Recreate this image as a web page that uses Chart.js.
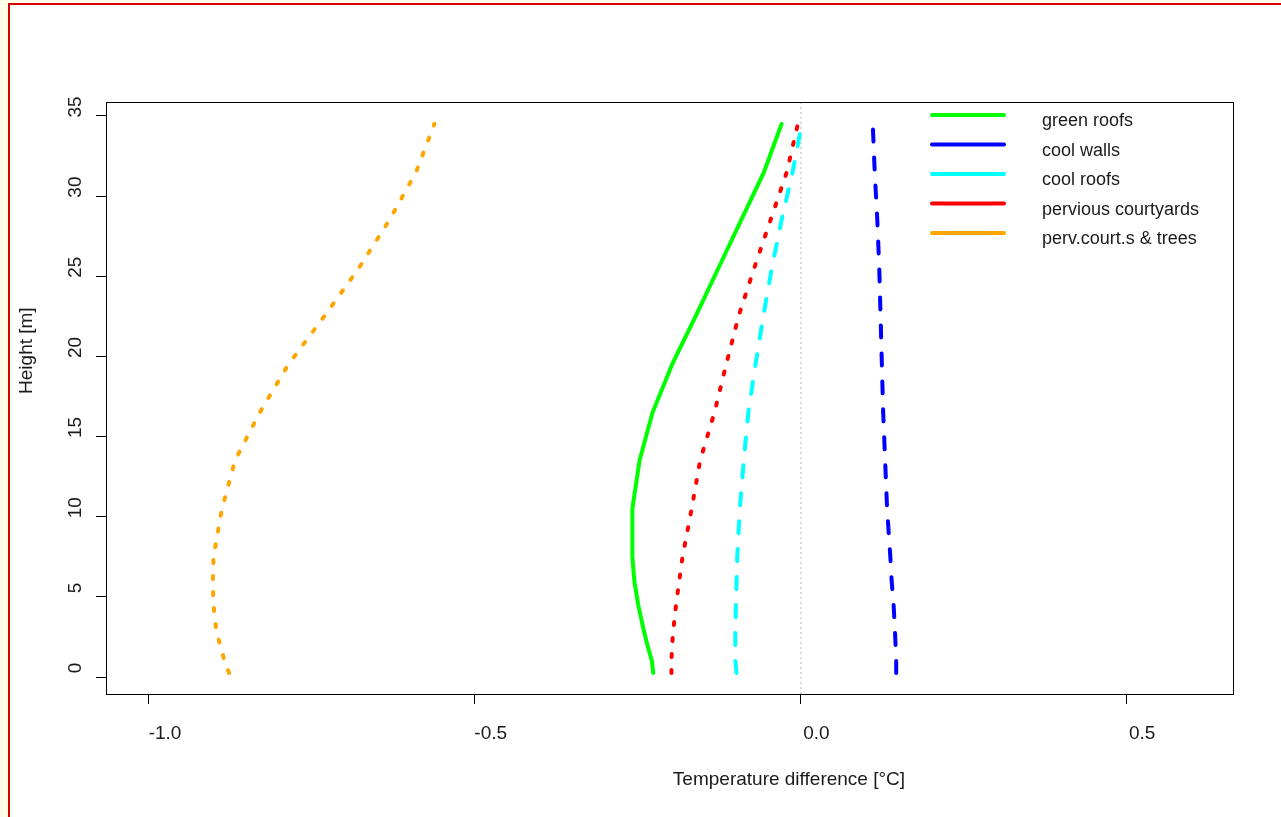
<!DOCTYPE html>
<html>
<head>
<meta charset="utf-8">
<title>Temperature difference profiles</title>
<script src="https://cdn.jsdelivr.net/npm/chart.js@4.4.1/dist/chart.umd.min.js"></script>
<style>
  html, body { margin: 0; padding: 0; width: 1281px; height: 817px; overflow: hidden; background: #fffde6; }
  #frame { position: absolute; left: 8px; top: 3px; width: 1290px; height: 830px; border: 2px solid #d00000; background: #ffffff; box-sizing: border-box; }
  #c { position: absolute; left: 0; top: 0; }
</style>
</head>
<body>
<div id="frame"></div>
<canvas id="c" width="1281" height="817"></canvas>
<script>
// Model levels (m) shared by every profile
const heights = [0.25, 1, 2, 3, 4.5, 6, 7.5, 10.5, 13.5, 16.5, 19.5, 22.5, 25.5, 28.5, 31.5, 34.5];

// Temperature difference (°C) against the reference case, one list per scenario
const greenRoofs   = [-0.226, -0.228, -0.235, -0.241, -0.249, -0.255, -0.258, -0.258, -0.247, -0.227, -0.197, -0.161, -0.126, -0.091, -0.056, -0.029];
const coolWalls    = [0.147, 0.147, 0.146, 0.145, 0.143, 0.140, 0.138, 0.133, 0.130, 0.127, 0.125, 0.123, 0.121, 0.118, 0.114, 0.111];
const coolRoofs    = [-0.098, -0.100, -0.100, -0.100, -0.099, -0.098, -0.097, -0.093, -0.087, -0.080, -0.069, -0.057, -0.044, -0.029, -0.012, 0.002];
const perviousCy   = [-0.198, -0.198, -0.197, -0.195, -0.191, -0.186, -0.181, -0.167, -0.154, -0.132, -0.114, -0.095, -0.071, -0.046, -0.021, -0.004];
const pervCyTrees  = [-0.877, -0.884, -0.891, -0.897, -0.901, -0.902, -0.901, -0.888, -0.868, -0.830, -0.786, -0.731, -0.678, -0.631, -0.590, -0.562];

const seriesNames = ['green roofs', 'cool walls', 'cool roofs', 'pervious courtyards', 'perv.court.s & trees'];

// Axis ticks
const xTickValues = [-1.0, -0.5, 0.0, 0.5];
const xTickLabels = ['-1.0', '-0.5', '0.0', '0.5'];
const yTickValues = [0, 5, 10, 15, 20, 25, 30, 35];
const yTickLabels = ['0', '5', '10', '15', '20', '25', '30', '35'];

const toPoints = vals => vals.map((v, i) => ({ x: v, y: heights[i] }));

const FONT = '"Liberation Sans", Arial, sans-serif';

const styles = [
  { color: '#00ff00', dash: [] },
  { color: '#0000ff', dash: [12, 16] },
  { color: '#00ffff', dash: [12, 16] },
  { color: '#ff0000', dash: [3, 13] },
  { color: '#ffa500', dash: [3, 13] }
];
const values = [greenRoofs, coolWalls, coolRoofs, perviousCy, pervCyTrees];

const datasets = values.map((vals, k) => ({
  label: seriesNames[k],
  data: toPoints(vals),
  showLine: true,
  borderColor: styles[k].color,
  backgroundColor: styles[k].color,
  borderWidth: 4,
  borderDash: styles[k].dash,
  borderCapStyle: 'round',
  borderJoinStyle: 'round',
  pointRadius: 0,
  pointHoverRadius: 0,
  tension: 0
}));

// Box around the plot, dotted zero line, axis titles and legend
const decorations = {
  id: 'decorations',
  beforeDatasetsDraw(chart) {
    const { ctx, chartArea: a, scales } = chart;
    const x0 = scales.x.getPixelForValue(0);
    ctx.save();
    ctx.strokeStyle = '#b4b4b4';
    ctx.lineWidth = 1;
    ctx.setLineDash([2, 3]);
    ctx.beginPath();
    ctx.moveTo(x0 + 0.5, a.top);
    ctx.lineTo(x0 + 0.5, a.bottom);
    ctx.stroke();
    ctx.restore();
  },
  afterDraw(chart) {
    const { ctx, chartArea: a } = chart;
    ctx.save();
    ctx.strokeStyle = '#000';
    ctx.lineWidth = 1;
    ctx.strokeRect(a.left + 0.5, a.top + 0.5, a.right - a.left, a.bottom - a.top);

    ctx.fillStyle = '#1a1a1a';
    ctx.font = '19px ' + FONT;
    ctx.textAlign = 'center';
    ctx.textBaseline = 'middle';
    ctx.fillText('Temperature difference [°C]', a.left + 0.606 * (a.right - a.left), a.bottom + 86);

    ctx.save();
    ctx.translate(a.left - 79, a.top + 0.42 * (a.bottom - a.top));
    ctx.rotate(-Math.PI / 2);
    ctx.fillText('Height [m]', 0, 0);
    ctx.restore();

    // legend
    ctx.font = '18px ' + FONT;
    ctx.textAlign = 'left';
    ctx.textBaseline = 'alphabetic';
    chart.data.datasets.forEach((ds, i) => {
      const y = a.top + 13 + i * 29.5;
      ctx.strokeStyle = ds.borderColor;
      ctx.lineWidth = 4;
      ctx.lineCap = 'round';
      ctx.beginPath();
      ctx.moveTo(a.right - 301, y);
      ctx.lineTo(a.right - 229, y);
      ctx.stroke();
      ctx.fillStyle = '#1a1a1a';
      ctx.fillText(ds.label, a.right - 191, y + 11);
    });
    ctx.restore();
  }
};

new Chart(document.getElementById('c'), {
  type: 'scatter',
  data: { datasets },
  options: {
    responsive: false,
    animation: false,
    devicePixelRatio: 1,
    layout: { padding: { left: 46, top: 102, right: 48, bottom: 73 } },
    plugins: { legend: { display: false }, tooltip: { enabled: false } },
    scales: {
      x: {
        type: 'linear',
        min: -1.066,
        max: 0.664,
        afterBuildTicks: s => { s.ticks = xTickValues.map(v => ({ value: v })); },
        afterFit: s => { s.height = 50; },
        border: { display: false },
        grid: { drawOnChartArea: false, drawTicks: true, tickLength: 10, color: '#000', lineWidth: 1 },
        ticks: {
          font: { family: FONT, size: 19 },
          color: '#1a1a1a',
          padding: 18,
          labelOffset: 16,
          maxRotation: 0,
          callback: (v, i) => xTickLabels[i]
        }
      },
      y: {
        type: 'linear',
        min: -1.06,
        max: 35.87,
        afterBuildTicks: s => { s.ticks = yTickValues.map(v => ({ value: v })); },
        afterFit: s => { s.width = 60; },
        border: { display: false },
        grid: { drawOnChartArea: false, drawTicks: true, tickLength: 10, color: '#000', lineWidth: 1 },
        ticks: {
          font: { family: FONT, size: 19 },
          color: '#1a1a1a',
          padding: 10,
          minRotation: 90,
          maxRotation: 90,
          crossAlign: 'center',
          labelOffset: -9,
          callback: (v, i) => yTickLabels[i]
        }
      }
    }
  },
  plugins: [decorations]
});
</script>
</body>
</html>
